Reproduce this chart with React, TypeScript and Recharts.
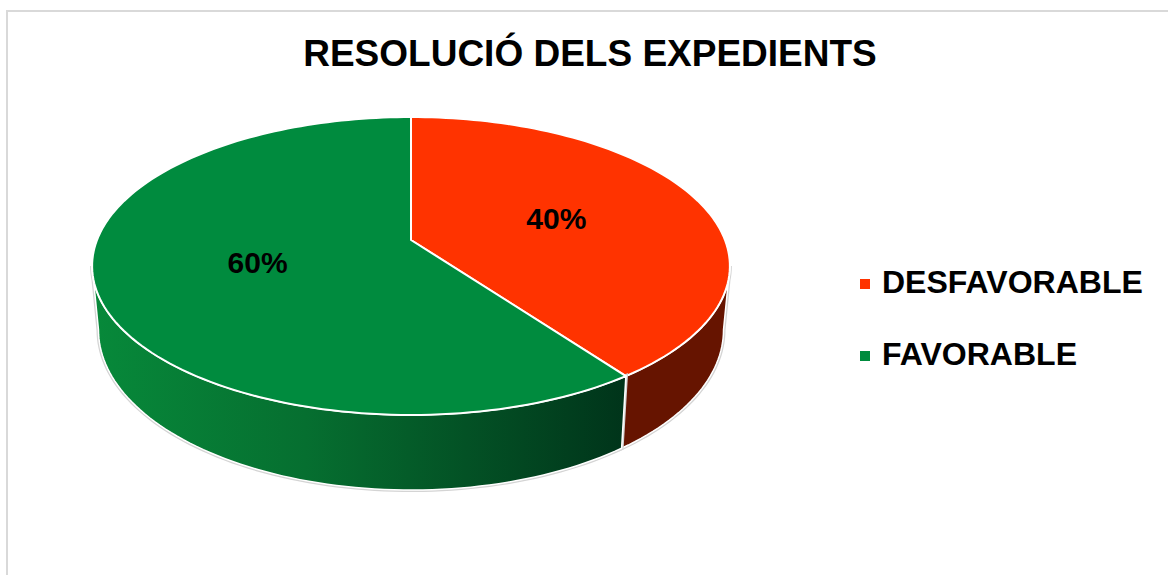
import React from 'react';
import { PieChart, Pie, Cell, Legend } from 'recharts';

const categories = ['DESFAVORABLE', 'FAVORABLE'];
const values = [40, 60];

const topColors = ['#ff3300', '#008b3e'];
const sideColors = [['#661400', '#661400', '#661400'], ['#07893a', '#066f30', '#00341a']];

const data = categories.map((name, i) => ({ name, value: values[i] }));

// fake 3D disc: tilt, perspective strength and wall depth
const TILT = 0.46;
const PERSP = 0.1745;
const DEPTH = 62;
const RAD = Math.PI / 180;
const FRONT_START = Math.acos(-PERSP) / RAD;
const FRONT_END = 360 - FRONT_START;

// theta = degrees clockwise from the back (12 o'clock) of the disc
const project = (cx: number, cy: number, r: number, theta: number, rf = 1, z = 0) => {
  const u = Math.sin(theta * RAD);
  const v = -Math.cos(theta * RAD);
  const s = 1 / (1 - PERSP * v * rf);
  return [cx + r * rf * u * s * (1 - 0.02 * z), cy + r * TILT * rf * v * s + DEPTH * s * z];
};

const arc = (cx: number, cy: number, r: number, t1: number, t2: number, z: number) => {
  const steps = Math.max(6, Math.ceil(Math.abs(t2 - t1) / 1.5));
  const pts: number[][] = [];
  for (let i = 0; i <= steps; i++) pts.push(project(cx, cy, r, t1 + ((t2 - t1) * i) / steps, 1, z));
  return pts;
};

const Slice3D = (props: any) => {
  const { cx, cy, outerRadius, startAngle, endAngle, fill } = props;
  const name = props.payload?.name ?? props.name;
  const idx = Math.max(0, categories.indexOf(name));
  const t1 = 90 - startAngle;
  const t2 = 90 - endAngle;

  const top = arc(cx, cy, outerRadius, t1, t2, 0);
  const topPath = `M${cx},${cy} ` + top.map((p) => `L${p[0]},${p[1]}`).join(' ') + ' Z';

  let wall = null;
  const f1 = Math.max(t1, FRONT_START);
  const f2 = Math.min(t2, FRONT_END);
  if (f2 > f1) {
    const upper = arc(cx, cy, outerRadius, f1, f2, 0);
    const lower = arc(cx, cy, outerRadius, f2, f1, 1);
    const d = 'M' + [...upper, ...lower].map((p) => `${p[0]},${p[1]}`).join(' L') + ' Z';
    const xs = [...upper, ...lower].map((p) => p[0]);
    const gid = `side-${idx}`;
    wall = (
      <g>
        <defs>
          <linearGradient id={gid} gradientUnits="userSpaceOnUse" x1={Math.min(...xs)} x2={Math.max(...xs)} y1={0} y2={0}>
            <stop offset="0%" stopColor={sideColors[idx][0]} />
            <stop offset="40%" stopColor={sideColors[idx][1]} />
            <stop offset="100%" stopColor={sideColors[idx][2]} />
          </linearGradient>
        </defs>
        <path d={d} fill="none" stroke="#d4d4d4" strokeWidth={4} />
        <path d={d} fill={`url(#${gid})`} stroke="#ffffff" strokeWidth={1.5} strokeLinejoin="round" />
      </g>
    );
  }

  return (
    <g>
      {wall}
      <path d={topPath} fill={fill} stroke="#ffffff" strokeWidth={2} strokeLinejoin="round" />
    </g>
  );
};

const renderLabel = (p: any) => {
  const cx = p.cx ?? 411;
  const cy = p.cy ?? 240;
  const [x, y] = project(cx, cy, p.outerRadius ?? 314, 90 - p.midAngle, 0.5);
  return (
    <text
      x={x}
      y={y}
      textAnchor="middle"
      dominantBaseline="central"
      fill="#000"
      fontSize={30}
      fontWeight={700}
      fontFamily='"Liberation Sans", Arial, sans-serif'
    >
      {`${Math.round(p.percent * 100)}%`}
    </text>
  );
};

const renderLegend = () => (
  <div style={{ fontFamily: '"Liberation Sans", Arial, sans-serif', width: 300 }}>
    {categories.map((c, i) => (
      <div key={c} style={{ display: 'flex', alignItems: 'center', height: 72 }}>
        <div
          style={{ width: 10, height: 10, flexShrink: 0, background: topColors[i], marginRight: 12, marginTop: 4 }}
        />
        <div style={{ fontSize: 32, fontWeight: 700, lineHeight: '72px', color: '#000', whiteSpace: 'nowrap' }}>{c}</div>
      </div>
    ))}
  </div>
);

export default function App() {
  return (
    <div
      style={{
        position: 'absolute',
        left: 0,
        top: 0,
        width: 1168,
        height: 575,
        overflow: 'hidden',
        background: '#fff',
        fontFamily: '"Liberation Sans", Arial, sans-serif',
      }}
    >
      <div
        style={{
          position: 'absolute',
          left: 6,
          top: 10,
          width: 1300,
          height: 700,
          border: '2px solid #d9d9d9',
          boxSizing: 'border-box',
        }}
      />
      <div
        style={{
          position: 'absolute',
          left: 0,
          top: 32,
          width: 1180,
          textAlign: 'center',
          fontSize: 37,
          fontWeight: 700,
          lineHeight: '44px',
          color: '#000',
        }}
      >
        RESOLUCIÓ DELS EXPEDIENTS
      </div>
      <div style={{ position: 'absolute', left: 0, top: 0 }}>
        <PieChart width={1168} height={575} margin={{ top: 0, right: 0, bottom: 0, left: 0 }}>
          <Pie
            data={data}
            dataKey="value"
            nameKey="name"
            cx={411}
            cy={240}
            outerRadius={314}
            startAngle={90}
            endAngle={-270}
            stroke="none"
            isAnimationActive={false}
            labelLine={false}
            label={renderLabel}
            shape={Slice3D}
            activeShape={Slice3D}
            inactiveShape={Slice3D}
          >
            {data.map((d, i) => (
              <Cell key={d.name} fill={topColors[i]} />
            ))}
          </Pie>
          <Legend
            layout="vertical"
            verticalAlign="top"
            align="right"
            content={renderLegend}
            wrapperStyle={{ left: 860, top: 246, width: 300 }}
          />
        </PieChart>
      </div>
    </div>
  );
}
